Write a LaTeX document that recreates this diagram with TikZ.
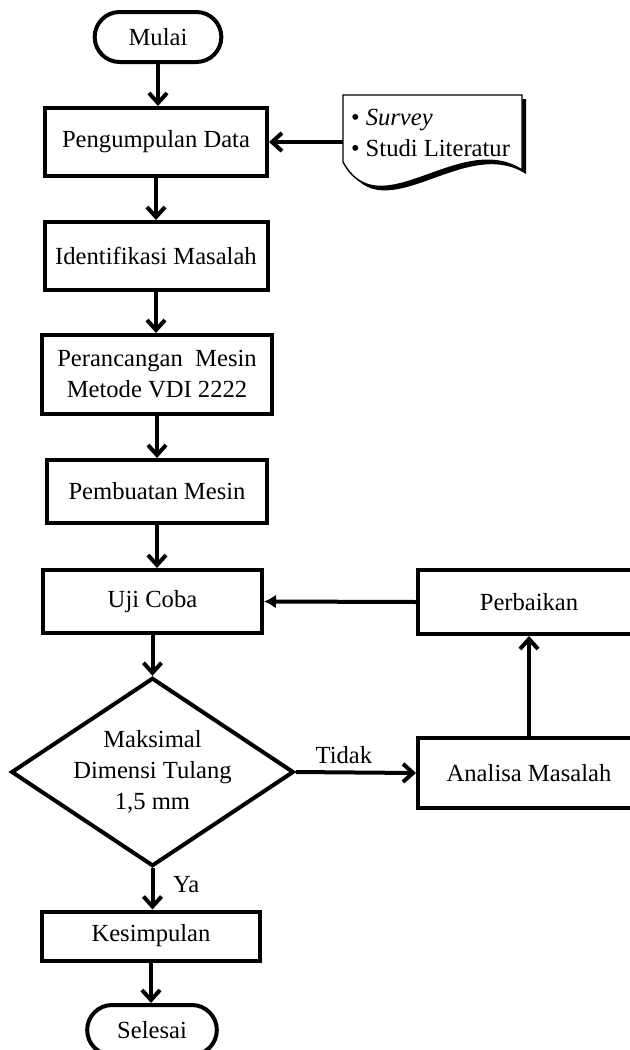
\documentclass[tikz,border=0pt]{standalone}
\usepackage{fontspec}
\setmainfont{Liberation Serif}
\usetikzlibrary{arrows.meta}
\usetikzlibrary{shapes}
\usetikzlibrary{calc}

\begin{document}
\begin{tikzpicture}[x=0.5pt, y=-0.5pt, line width=2pt,
		font=\fontsize{12.3}{15.5}\selectfont,
		proses/.style={draw, rectangle, align=center, inner sep=2pt},
		terminal/.style={draw, rounded rectangle, minimum width=70pt, minimum height=25pt},
		keputusan/.style={draw, diamond, aspect=1.5, inner sep=0pt, align=center, minimum width=137.5pt, minimum height=91.5pt},
		panah/.style={-{Straight Barb[length=5pt, width=9pt]}},
		panahisi/.style={-{Latex[length=6pt, width=7pt]}}]
		\useasboundingbox (0,0) rectangle (630,1050);

		\node[terminal] (mulai) at (158,37) {Mulai};
		\node[proses, minimum width=111pt, minimum height=34pt] (data) at (156,142) {Pengumpulan Data};
		\node[proses, minimum width=111.5pt, minimum height=34pt] (ident) at (156,256) {Identifikasi Masalah};
		\node[proses, minimum width=115pt, minimum height=39.5pt] (rancang) at (157,374.5) {Perancangan~~Mesin\\Metode VDI 2222};
		\node[proses, minimum width=110pt, minimum height=31.5pt] (buat) at (157,491.5) {Pembuatan Mesin};
		\node[proses, minimum width=109.5pt, minimum height=31.5pt] (uji) at (152.5,601.5) {Uji Coba};
		\node[proses, minimum width=111pt, minimum height=32pt] (baik) at (529,602) {Perbaikan};
		\node[keputusan] (cek) at (152.5,772) {Maksimal\\Dimensi Tulang\\1,5 mm};
		\node[proses, minimum width=111pt, minimum height=35pt] (analisa) at (529,773) {Analisa Masalah};
		\node[proses, minimum width=109pt, minimum height=24.5pt] (simpul) at (151,936) {Kesimpulan};
		\node[terminal, minimum width=71.5pt] (selesai) at (152,1030) {Selesai};

		% dokumen masukan
		\fill[shift={(4,4)}] (343,95) -- (522,95) -- (522,170) .. controls (460,130) and (380,230) .. (343,162) -- cycle;
		\filldraw[fill=white, line width=0.7pt] (343,95) -- (522,95) -- (522,170) .. controls (460,130) and (380,230) .. (343,162) -- cycle;
		\node[anchor=west, align=left, inner sep=0pt] (dok) at (349,133) {\textbullet\ \textit{Survey}\\\textbullet\ Studi Literatur};
		\coordinate (dokin) at (343,142);

		\draw[panah] (mulai.south) -- (mulai.south |- data.north);
		\draw[panah] (dokin) -- (data.east);
		\draw[panah] (data.south) -- (data.south |- ident.north);
		\draw[panah] (ident.south) -- (ident.south |- rancang.north);
		\draw[panah] (rancang.south) -- (rancang.south |- buat.north);
		\draw[panah] (buat.south) -- (buat.south |- uji.north);
		\draw[panah] (uji.south) -- (cek.north);
		\draw[panah] (cek.east) -- node[pos=0.4, above] (tidak) {Tidak} (analisa.west);
		\draw[panah] (analisa.north) -- (baik.south);
		\draw[panahisi] (baik.west) -- (uji.east);
		\draw[panah] (cek.south) -- node[pos=0.4, right=6pt] (ya) {Ya} (cek.south |- simpul.north);
		\draw[panah] (simpul.south) -- (simpul.south |- selesai.north);
	\end{tikzpicture}
\end{document}
